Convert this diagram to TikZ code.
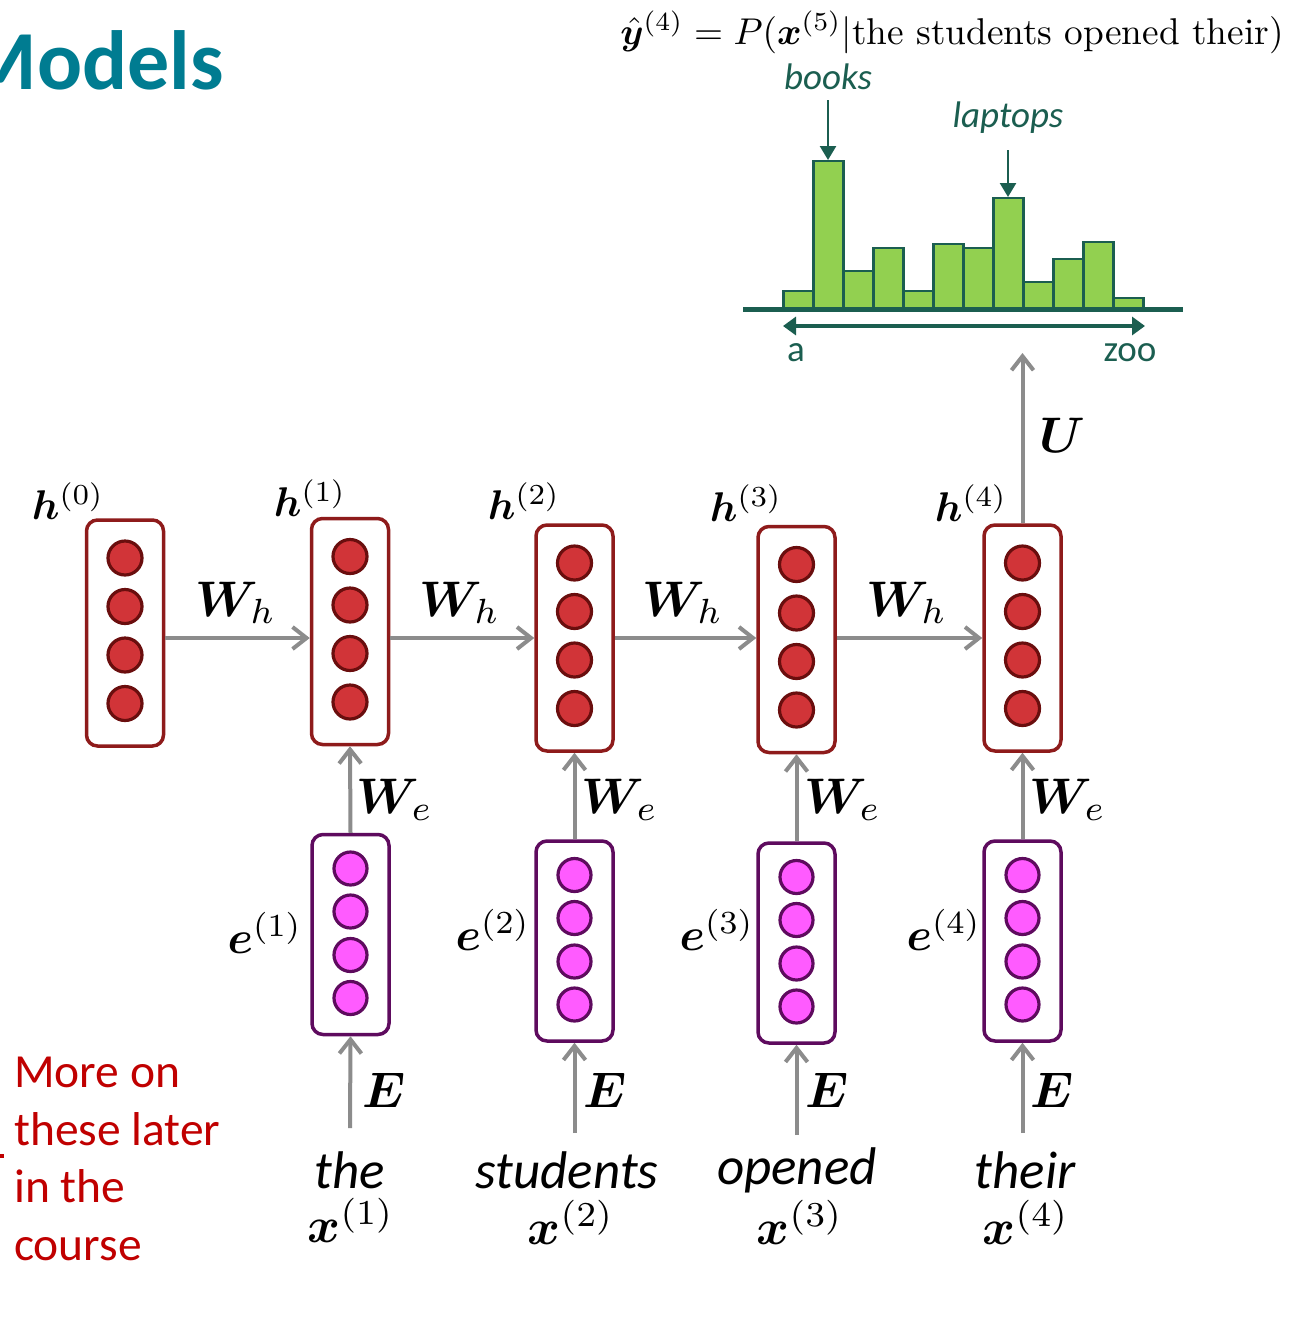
\documentclass[tikz,border=0pt]{standalone}
\usepackage{amsmath,bm}
\usepackage{graphicx}
\usepackage{fontspec}
\newfontfamily\carlito{Carlito}
\usetikzlibrary{arrows.meta}
\definecolor{hred}{HTML}{8E1B1B}
\definecolor{hfill}{HTML}{D13438}
\definecolor{hdark}{HTML}{6A0E0E}
\definecolor{epurple}{HTML}{5E0B5E}
\definecolor{efill}{HTML}{FF5BFF}
\definecolor{arrgray}{HTML}{8C8C8C}
\definecolor{hgreen}{HTML}{92D050}
\definecolor{dgreen}{HTML}{1B5E50}
\definecolor{titlecol}{HTML}{007C91}
\definecolor{noteRed}{HTML}{C00000}
\newcommand\hlabtxt[1]{\scalebox{4.15}{$#1$}}
\newcommand\mlabtxt[1]{\scalebox{4.6}{$#1$}}
\newcommand\xlabtxt[1]{\scalebox{5.0}{$#1$}}
\newcommand\wlabtxt[1]{\scalebox{5.0}{$#1$}}
\tikzset{
  hbox/.style={draw=hred, line width=3.5pt, rounded corners=11pt, fill=white, minimum width=77pt, minimum height=226pt, inner sep=0pt},
  ebox/.style={draw=epurple, line width=3.5pt, rounded corners=11pt, fill=white, minimum width=77pt, minimum height=200pt, inner sep=0pt},
  hdot/.style={circle, fill=hfill, draw=hdark, line width=3.2pt, minimum size=34pt, inner sep=0pt},
  edot/.style={circle, fill=efill, draw=epurple, line width=3.2pt, minimum size=33pt, inner sep=0pt},
  conn/.style={draw=arrgray, line width=4pt, -{Straight Barb[length=14pt,width=22pt]}},
  mlab/.style={inner sep=0pt},
  word/.style={inner sep=0pt, font=\carlito\itshape\fontsize{53}{56}\selectfont},
  bar/.style={draw=dgreen, fill=hgreen, line width=2.5pt},
  glab/.style={inner sep=0pt, text=dgreen, font=\carlito\fontsize{37}{42}\selectfont},
  garrow/.style={draw=dgreen, line width=2.5pt, -{Triangle[length=14pt,width=16pt]}},
}
\begin{document}
\begin{tikzpicture}[x=1pt, y=-1pt]
\useasboundingbox (0,0) rectangle (1299,1323);
\fill[white] (0,0) rectangle (1299,1323);

% title
\node[inner sep=0pt, anchor=base east, text=titlecol, font=\carlito\bfseries\fontsize{84}{90}\selectfont] (title) at (224,89) {Models};

% formula
\node[inner sep=0pt, anchor=base] (formula) at (952,44) {\scalebox{3.73}{$\hat{\bm y}^{(4)} = P(\bm x^{(5)}|\text{the students opened their})$}};

% histogram
\foreach \i/\t in {0/291,1/161,2/271,3/248,4/291,5/244,6/248,7/198,8/282,9/259,10/242,11/298} {
  \draw[bar] ({783.3+30*\i},309) rectangle ({813.3+30*\i},\t);
}
\draw[dgreen, line width=5pt] (743,309) -- (1183,309);
\coordinate (ha) at (783,326);
\coordinate (hz) at (1145,326);
\draw[dgreen, line width=4.5pt, {Triangle[length=13pt,width=18pt]}-{Triangle[length=13pt,width=18pt]}] (ha) -- (hz);
\node[glab] (la) at (796,353) {a};
\node[glab] (lzoo) at (1130,353) {zoo};
\node[glab, font=\carlito\itshape\fontsize{37}{42}\selectfont] (books) at (828,77) {books};
\node[glab, font=\carlito\itshape\fontsize{37}{42}\selectfont] (laptops) at (1008,118) {laptops};
\coordinate (bookstop) at (828,160);
\coordinate (laptopstop) at (1008,197);
\draw[garrow] (828,100) -- (bookstop);
\draw[garrow] (1008,150) -- (laptopstop);

% hidden boxes
\foreach \n/\x/\y in {0/125/633, 1/350/631.5, 2/574.5/638, 3/796.5/639.5, 4/1022.5/638} {
  \node[hbox] (h\n) at (\x,\y) {};
  \foreach \k/\o in {1/-75, 2/-26.5, 3/22, 4/70.5} {
    \node[hdot] (h\n c\k) at (\x,\y+\o) {};
  }
}
% embedding boxes
\foreach \n/\x/\y in {1/350.5/934.5, 2/574.5/941, 3/796.5/943, 4/1022.5/941} {
  \node[ebox] (e\n) at (\x,\y) {};
  \foreach \k/\o in {1/-66, 2/-23, 3/20.5, 4/63.5} {
    \node[edot] (e\n c\k) at (\x,\y+\o) {};
  }
}

% labels h
\node[mlab] (lh0) at (68,501) {\hlabtxt{\bm h^{(0)}}};
\node[mlab] (lh1) at (310,498) {\hlabtxt{\bm h^{(1)}}};
\node[mlab] (lh2) at (524,501) {\hlabtxt{\bm h^{(2)}}};
\node[mlab] (lh3) at (746,503) {\hlabtxt{\bm h^{(3)}}};
\node[mlab] (lh4) at (971,503) {\hlabtxt{\bm h^{(4)}}};

% W_h arrows
\coordinate (wy) at (0,638);
\draw[conn] (h0.east |- wy) -- (h1.west |- wy);
\draw[conn] (h1.east |- wy) -- (h2.west |- wy);
\draw[conn] (h2.east |- wy) -- (h3.west |- wy);
\draw[conn] (h3.east |- wy) -- (h4.west |- wy);
\node[mlab] (wh1) at (236,603) {\wlabtxt{\bm W_h}};
\node[mlab] (wh2) at (460,603) {\wlabtxt{\bm W_h}};
\node[mlab] (wh3) at (683,603) {\wlabtxt{\bm W_h}};
\node[mlab] (wh4) at (907,603) {\wlabtxt{\bm W_h}};

% W_e arrows
\foreach \n in {1,2,3,4} { \draw[conn] (e\n.north) -- (h\n.south); }
\node[mlab] (we1) at (395,800) {\wlabtxt{\bm W_e}};
\node[mlab] (we2) at (620,800) {\wlabtxt{\bm W_e}};
\node[mlab] (we3) at (843,800) {\wlabtxt{\bm W_e}};
\node[mlab] (we4) at (1068,800) {\wlabtxt{\bm W_e}};

% e labels
\node[mlab] (le1) at (265,933) {\mlabtxt{\bm e^{(1)}}};
\node[mlab] (le2) at (493,930) {\mlabtxt{\bm e^{(2)}}};
\node[mlab] (le3) at (717,930) {\mlabtxt{\bm e^{(3)}}};
\node[mlab] (le4) at (944,930) {\mlabtxt{\bm e^{(4)}}};

% E arrows
\coordinate (x1b) at (350,1128);
\coordinate (x2b) at (574.5,1133);
\coordinate (x3b) at (796.5,1135);
\coordinate (x4b) at (1022.5,1133);
\foreach \n in {1,2,3,4} { \draw[conn] (x\n b) -- (e\n.south); }
\node[mlab] (E1) at (384,1090) {\wlabtxt{\bm E}};
\node[mlab] (E2) at (605,1090) {\wlabtxt{\bm E}};
\node[mlab] (E3) at (827,1090) {\wlabtxt{\bm E}};
\node[mlab] (E4) at (1052,1090) {\wlabtxt{\bm E}};

% words
\node[word] (w1) at (350,1170) {the};
\node[word] (w2) at (567,1170) {students};
\node[word] (w3) at (797,1170) {opened};
\node[word] (w4) at (1025,1170) {their};
\node[mlab] (x1) at (351,1220) {\xlabtxt{\bm x^{(1)}}};
\node[mlab] (x2) at (571,1222) {\xlabtxt{\bm x^{(2)}}};
\node[mlab] (x3) at (800,1222) {\xlabtxt{\bm x^{(3)}}};
\node[mlab] (x4) at (1026,1222) {\xlabtxt{\bm x^{(4)}}};

% U arrow
\coordinate (utop) at (1022.5,353);
\draw[conn] (h4.north) -- (utop);
\node[mlab] (U) at (1062,435) {\wlabtxt{\bm U}};

% note
\node[inner sep=0pt, anchor=base west, text=noteRed, align=left, font=\carlito\fontsize{47.5}{57.5}\selectfont] (note) at (14,1260) {More on\\these later\\in the\\course};
\fill[noteRed] (0,1154) rectangle (4,1158);
\end{tikzpicture}
\end{document}
